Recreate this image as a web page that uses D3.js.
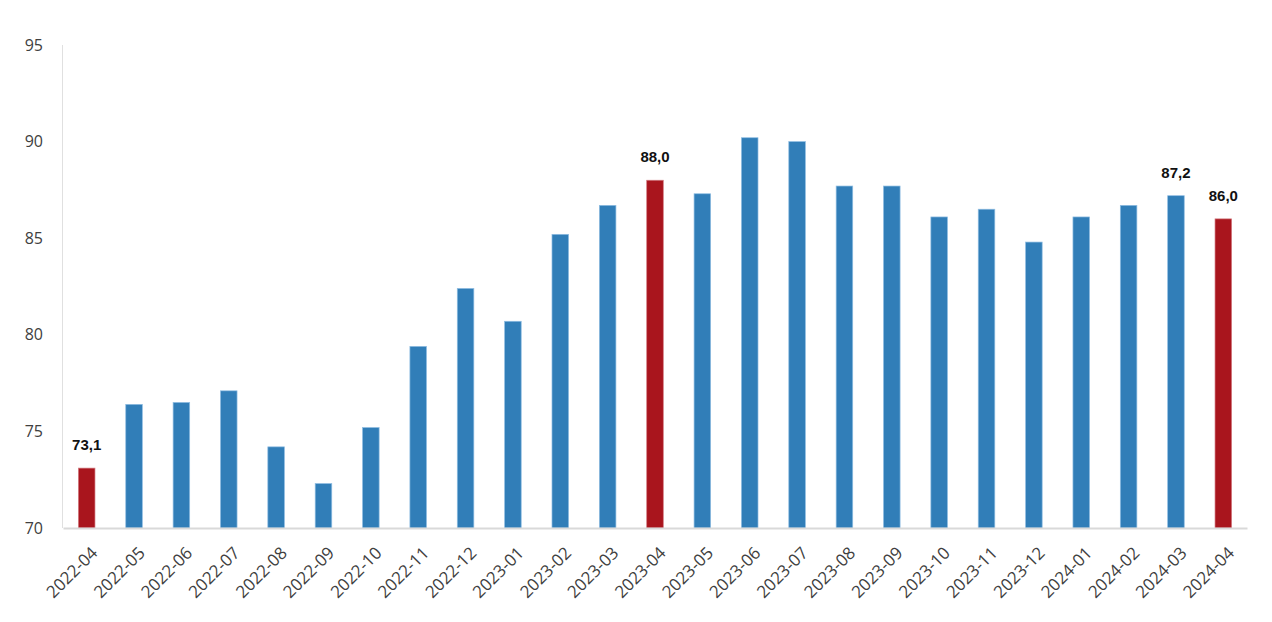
<!DOCTYPE html>
<html><head><meta charset="utf-8">
<script src="https://cdn.jsdelivr.net/npm/d3@7"></script>
<style>body{margin:0;background:#fff;} svg{display:block;}</style>
</head><body>
<svg id="c" width="1272" height="622"></svg>
<script>
const months = ["2022-04","2022-05","2022-06","2022-07","2022-08","2022-09","2022-10","2022-11","2022-12","2023-01","2023-02","2023-03","2023-04","2023-05","2023-06","2023-07","2023-08","2023-09","2023-10","2023-11","2023-12","2024-01","2024-02","2024-03","2024-04"];
const values = [73.1,76.4,76.5,77.1,74.2,72.3,75.2,79.4,82.4,80.7,85.2,86.7,88.0,87.3,90.2,90.0,87.7,87.7,86.1,86.5,84.8,86.1,86.7,87.2,86.0];
const highlighted = ["2022-04","2023-04","2024-04"];
const labelled = ["2022-04","2023-04","2024-03","2024-04"];
const yTicks = [70,75,80,85,90,95];

const data = months.map((m,i)=>({m, v: values[i]}));
const svg = d3.select("#c");
const x = d3.scaleBand().domain(months).range([63,1247]).paddingInner(0.65).paddingOuter(0.325);
const y = d3.scaleLinear().domain([70,95]).range([528,45]);

// y axis line
svg.append("line").attr("x1",62.5).attr("x2",62.5).attr("y1",45).attr("y2",528)
  .attr("stroke","#e0e0e0").attr("stroke-width",1);

// y tick labels
const ya = svg.append("g").attr("transform","translate(43,0)")
  .call(d3.axisLeft(y).tickValues(yTicks).tickSize(0).tickPadding(0).tickFormat(d3.format("d")));
ya.select(".domain").remove();
ya.selectAll("text").attr("font-family","'Open Sans'").attr("font-size",16).attr("fill","#404040");

// bars
svg.append("g").selectAll("rect").data(data).join("rect")
  .attr("x",d=>x(d.m)).attr("width",x.bandwidth())
  .attr("y",d=>y(d.v)).attr("height",d=>y(70)-y(d.v))
  .attr("fill",d=>highlighted.includes(d.m)?"#A9151D":"#317EB8")
  .attr("stroke",d=>highlighted.includes(d.m)?"#d27a80":"#8fbde2")
  .attr("stroke-width",0.7);

// x axis
const xa = svg.append("g").attr("transform","translate(0,528)")
  .call(d3.axisBottom(x).tickSize(0).tickPadding(0));
xa.select(".domain").attr("stroke","#d9d9d9").attr("stroke-width",2);
xa.selectAll("text").attr("font-family","'Open Sans'").attr("font-size",17).attr("fill","#404040")
  .attr("text-anchor","end").attr("dy",0)
  .attr("transform","translate(12,26) rotate(-45)");

// value labels
svg.append("g").selectAll("text").data(data.filter(d=>labelled.includes(d.m))).join("text")
  .attr("x",d=>x(d.m)+x.bandwidth()/2).attr("y",d=>y(d.v)-18)
  .attr("text-anchor","middle").attr("font-family","'Liberation Sans', Arial").attr("font-weight","bold")
  .attr("font-size",15).attr("fill","#111")
  .text(d=>d3.format(".1f")(d.v).replace(".",","));
</script>
</body></html>
